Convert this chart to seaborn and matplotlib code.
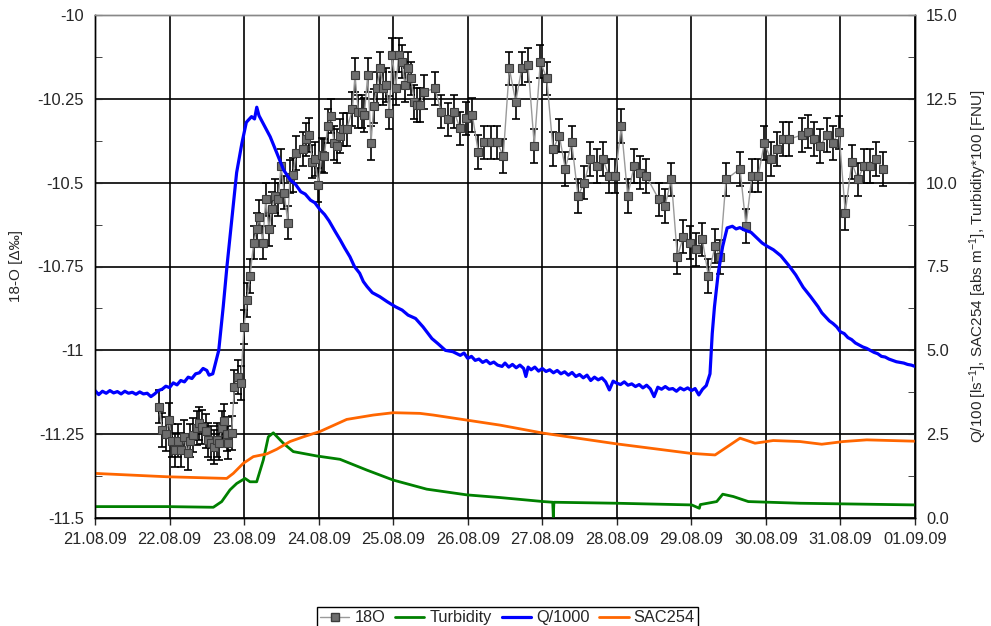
import numpy as np
import pandas as pd
import seaborn as sns
import matplotlib.pyplot as plt
import matplotlib.dates as mdates
from matplotlib.lines import Line2D
from matplotlib.ticker import MultipleLocator, FuncFormatter

# 18O samples: days after 21.08.09 00:00, value in permil
o18_day = [0.859, 0.903, 0.948, 0.993, 1.029, 1.073, 1.117, 1.154, 1.198, 1.244,
           1.274, 1.319, 1.364, 1.395, 1.439, 1.485, 1.512, 1.556, 1.600, 1.633,
           1.663, 1.700, 1.735, 1.767, 1.788, 1.834, 1.869, 1.914, 1.955,
           1.999, 2.039, 2.079, 2.129, 2.169, 2.204, 2.250, 2.290, 2.334, 2.370,
           2.415, 2.459, 2.495, 2.539, 2.585, 2.616, 2.660, 2.696, 2.786, 2.830,
           2.875, 2.915, 2.951, 2.996, 3.041,
           3.076, 3.122, 3.162, 3.206, 3.250, 3.287, 3.331, 3.377, 3.452, 3.488,
           3.532, 3.578, 3.613, 3.658, 3.703, 3.739, 3.779, 3.827, 3.868, 3.908,
           3.948, 3.988, 4.034, 4.074, 4.114, 4.159, 4.203, 4.239, 4.283, 4.324,
           4.364, 4.409, 4.561, 4.642, 4.731, 4.816, 4.896, 4.977, 5.061, 5.142,
           5.222, 5.312, 5.393, 5.477, 5.558, 5.644, 5.724, 5.809, 5.893, 5.974,
           6.060, 6.144, 6.229, 6.309, 6.395, 6.479, 6.564, 6.644, 6.730, 6.815,
           6.895, 6.980, 7.060, 7.146, 7.231, 7.315, 7.396, 7.562, 7.646, 7.731,
           7.812, 7.892, 7.978, 8.062, 8.147, 8.228, 8.317, 8.384, 8.465, 8.653,
           8.733, 8.813, 8.898, 8.979, 9.064, 9.145, 9.230, 9.314, 9.481, 9.565,
           9.649, 9.730, 9.816, 9.896, 9.981, 10.065, 10.151, 10.232, 10.316, 10.397,
           10.481, 10.567]
o18_val = [-11.168, -11.238, -11.250, -11.208, -11.269, -11.297, -11.269, -11.297, -11.259, -11.307,
           -11.269, -11.252, -11.232, -11.218, -11.228, -11.240, -11.267, -11.277, -11.289, -11.267,
           -11.277, -11.232, -11.210, -11.250, -11.275, -11.247, -11.108, -11.079, -11.098,
           -10.930, -10.850, -10.778, -10.679, -10.639, -10.601, -10.679, -10.550, -10.639, -10.579,
           -10.540, -10.550, -10.450, -10.530, -10.619, -10.482, -10.477, -10.411, -10.400, -10.371,
           -10.358, -10.437, -10.430, -10.507, -10.417,
           -10.420, -10.331, -10.301, -10.381, -10.391, -10.361, -10.341, -10.341, -10.281, -10.179,
           -10.288, -10.288, -10.298, -10.179, -10.381, -10.271, -10.219, -10.159, -10.219, -10.209,
           -10.291, -10.119, -10.219, -10.119, -10.139, -10.209, -10.159, -10.189, -10.259, -10.268,
           -10.268, -10.229, -10.219, -10.288, -10.311, -10.288, -10.338, -10.308, -10.298, -10.409,
           -10.380, -10.380, -10.380, -10.420, -10.159, -10.259, -10.159, -10.149, -10.390, -10.139,
           -10.189, -10.400, -10.360, -10.459, -10.380, -10.539, -10.500, -10.430, -10.450, -10.430,
           -10.480, -10.480, -10.331, -10.540, -10.450, -10.470, -10.480, -10.550, -10.570, -10.490,
           -10.721, -10.661, -10.679, -10.699, -10.669, -10.778, -10.689, -10.721, -10.490, -10.459,
           -10.629, -10.479, -10.479, -10.381, -10.429, -10.400, -10.370, -10.370, -10.358, -10.348,
           -10.370, -10.391, -10.358, -10.381, -10.350, -10.590, -10.439, -10.490, -10.450, -10.450,
           -10.430, -10.459]
o18_err = 0.05

# Q/1000 (noisy logger trace)
q_day = [0.00, 0.05, 0.10, 0.15, 0.20, 0.25, 0.30, 0.35, 0.40, 0.45,
         0.50, 0.55, 0.60, 0.65, 0.70, 0.75, 0.80, 0.85, 0.90, 0.95,
         1.00, 1.05, 1.10, 1.15, 1.20, 1.25, 1.30, 1.35, 1.40, 1.45,
         1.50, 1.53, 1.58, 1.62, 1.66, 1.72, 1.77, 1.84, 1.90, 1.97,
         2.03, 2.10, 2.14, 2.17, 2.20, 2.26, 2.35, 2.44, 2.53, 2.62,
         2.69, 2.76, 2.82, 2.89, 2.95, 3.02, 3.08, 3.14, 3.22, 3.29,
         3.35, 3.42, 3.48, 3.55, 3.60, 3.65, 3.72, 3.82, 3.92, 4.03,
         4.12, 4.20, 4.30, 4.40, 4.52, 4.60, 4.70, 4.80, 4.90, 4.95,
         5.00, 5.05, 5.10, 5.15, 5.20, 5.25, 5.30, 5.35, 5.40, 5.46,
         5.50, 5.55, 5.60, 5.65, 5.70, 5.75, 5.78, 5.81, 5.85, 5.90,
         5.95, 6.00, 6.05, 6.10, 6.15, 6.20, 6.25, 6.30, 6.35, 6.40,
         6.45, 6.50, 6.55, 6.60, 6.65, 6.70, 6.75, 6.80, 6.85, 6.90,
         6.95, 7.00, 7.05, 7.10, 7.15, 7.20, 7.25, 7.30, 7.35, 7.40,
         7.45, 7.50, 7.55, 7.60, 7.65, 7.70, 7.75, 7.80, 7.85, 7.90,
         7.95, 8.00, 8.05, 8.10, 8.15, 8.20, 8.25, 8.28, 8.31, 8.36,
         8.42, 8.48, 8.55, 8.60, 8.65, 8.72, 8.80, 8.88, 8.95, 9.02,
         9.10, 9.20, 9.30, 9.40, 9.50, 9.60, 9.70, 9.75, 9.80, 9.85,
         9.90, 9.95, 10.00, 10.05, 10.10, 10.15, 10.20, 10.25, 10.30, 10.35,
         10.40, 10.45, 10.50, 10.55, 10.60, 10.65, 10.70, 10.75, 10.80, 10.85,
         10.90, 10.95, 11.00]
q_val = [3.80, 3.68, 3.78, 3.72, 3.80, 3.73, 3.77, 3.70, 3.78, 3.72,
         3.75, 3.69, 3.76, 3.70, 3.72, 3.62, 3.70, 3.80, 3.84, 3.93,
         3.89, 4.03, 3.97, 4.10, 4.06, 4.20, 4.16, 4.30, 4.33, 4.46,
         4.40, 4.26, 4.30, 4.65, 5.00, 6.30, 7.50, 9.00, 10.30, 11.17,
         11.80, 11.97, 11.90, 12.25, 12.00, 11.75, 11.37, 10.88, 10.38, 10.08,
         9.95, 9.73, 9.66, 9.48, 9.40, 9.19, 9.05, 8.86, 8.55, 8.29,
         8.05, 7.79, 7.50, 7.30, 7.05, 6.90, 6.72, 6.60, 6.45, 6.30,
         6.20, 6.05, 5.95, 5.70, 5.35, 5.20, 5.00, 4.96, 4.85, 4.92,
         4.76, 4.82, 4.70, 4.74, 4.64, 4.70, 4.60, 4.65, 4.56, 4.52,
         4.62, 4.50, 4.58, 4.48, 4.56, 4.46, 4.22, 4.50, 4.42, 4.50,
         4.38, 4.46, 4.37, 4.42, 4.33, 4.40, 4.30, 4.36, 4.26, 4.34,
         4.22, 4.28, 4.18, 4.26, 4.10, 4.20, 4.12, 4.18, 4.06, 3.82,
         4.08, 4.02, 3.98, 4.06, 3.96, 4.00, 3.92, 3.98, 3.88, 3.96,
         3.85, 3.62, 3.90, 3.84, 3.92, 3.84, 3.86, 3.78, 3.88, 3.82,
         3.88, 3.80, 3.86, 3.67, 3.84, 3.95, 4.30, 5.50, 6.30, 7.30,
         8.10, 8.65, 8.70, 8.62, 8.66, 8.58, 8.52, 8.35, 8.20, 8.10,
         8.00, 7.82, 7.55, 7.25, 6.88, 6.60, 6.30, 6.12, 6.00, 5.88,
         5.80, 5.70, 5.55, 5.50, 5.38, 5.32, 5.22, 5.16, 5.10, 5.06,
         5.00, 4.94, 4.90, 4.82, 4.80, 4.74, 4.70, 4.66, 4.64, 4.62,
         4.58, 4.56, 4.52]

# SAC254
sac_day = [0, 0.962, 1.767, 1.855, 1.989, 2.124, 2.303, 2.438, 2.616, 2.794, 3.018, 3.377,
           3.733, 4.002, 4.360, 4.538, 4.986, 5.433, 6.014, 6.999, 7.982, 8.318, 8.653, 8.854,
           9.099, 9.457, 9.749, 10.039, 10.352, 11.0]
sac_val = [1.33, 1.23, 1.18, 1.33, 1.63, 1.83, 1.91, 2.05, 2.28, 2.42, 2.58, 2.94,
           3.07, 3.14, 3.12, 3.07, 2.92, 2.77, 2.53, 2.21, 1.93, 1.88, 2.38, 2.23,
           2.31, 2.28, 2.20, 2.28, 2.33, 2.29]

# Turbidity
turb_day = [0, 0.962, 1.587, 1.700, 1.811, 1.901, 2.012, 2.079, 2.169, 2.258, 2.325, 2.392,
            2.526, 2.660, 2.974, 3.287, 3.645, 4.002, 4.450, 4.986, 5.433, 6.014, 6.140, 6.148,
            6.156, 6.999, 8.005, 8.107, 8.120, 8.340, 8.421, 8.563, 8.764, 9.457, 11.0]
turb_val = [0.34, 0.34, 0.32, 0.49, 0.84, 1.03, 1.18, 1.08, 1.08, 1.73, 2.42, 2.54,
            2.23, 1.98, 1.85, 1.75, 1.43, 1.13, 0.86, 0.69, 0.61, 0.49, 0.47, 0.04,
            0.47, 0.44, 0.39, 0.29, 0.40, 0.49, 0.71, 0.64, 0.49, 0.44, 0.39]

start = pd.Timestamp("2009-08-21")


def to_time(days):
    return start + pd.to_timedelta(np.asarray(days), unit="D")


sns.set_style("white")
plt.rcParams['font.family'] = ['Liberation Sans', 'DejaVu Sans']
plt.rcParams['mathtext.default'] = 'regular'

fig = plt.figure(figsize=(9.91, 6.26), dpi=100)
ax = fig.add_axes([95 / 991, 1 - 518 / 626, 820 / 991, 503 / 626])
ax2 = ax.twinx()

t18 = to_time(o18_day)
ax.errorbar(t18, o18_val, yerr=o18_err, fmt='none', ecolor='black',
            elinewidth=1.2, capsize=3.2, capthick=1.2, zorder=2)
sns.lineplot(x=t18, y=o18_val, ax=ax, color='#9a9a9a', lw=1, marker='s', markersize=6,
             markerfacecolor='#6e6e6e', markeredgecolor='#3c3c3c', markeredgewidth=0.8,
             estimator=None, zorder=3)

green, blue, orange = '#008000', '#0000ff', '#ff6600'
sns.lineplot(x=to_time(turb_day), y=turb_val, ax=ax2, color=green, lw=2, estimator=None)
sns.lineplot(x=to_time(q_day), y=q_val, ax=ax2, color=blue, lw=2.3, estimator=None)
sns.lineplot(x=to_time(sac_day), y=sac_val, ax=ax2, color=orange, lw=2, estimator=None)

ax.set_xlim(start, start + pd.Timedelta(days=11))
ax.set_ylim(-11.5, -10)
ax2.set_ylim(0, 15)
ax.xaxis.set_major_locator(mdates.DayLocator())
ax.xaxis.set_major_formatter(mdates.DateFormatter('%d.%m.%y'))
ax.yaxis.set_major_locator(MultipleLocator(0.25))
ax.yaxis.set_minor_locator(MultipleLocator(0.125))
ax.yaxis.set_major_formatter(FuncFormatter(lambda v, p: f"{v:g}"))
ax2.yaxis.set_major_locator(MultipleLocator(2.5))
ax2.yaxis.set_minor_locator(MultipleLocator(1.25))
ax2.yaxis.set_major_formatter(FuncFormatter(lambda v, p: f"{v:.1f}"))

ax.set_axisbelow(True)
ax.grid(True, which='major', color='black', lw=1.2)
ax.set_xlabel("")
ax.set_ylabel("18-O [Δ‰]", fontsize=11, labelpad=10)
ax2.set_ylabel("Q/100 [ls$^{-1}$], SAC254 [abs m$^{-1}$], Turbidity*100 [FNU]",
               fontsize=11, labelpad=7)

ax.tick_params(axis='x', which='major', bottom=True, direction='out', length=5,
               width=1, labelsize=11.8, pad=5)
ax.tick_params(axis='y', which='both', left=True, direction='in', length=5,
               labelsize=11.8, pad=8)
ax2.tick_params(axis='y', which='both', right=True, direction='in', length=5,
                labelsize=11.8, pad=8)
for a in (ax, ax2):
    for s in a.spines.values():
        s.set_color('black')
        s.set_linewidth(1)
    a.spines['top'].set_color('#888888')

handles = [
    Line2D([], [], color='#9a9a9a', lw=1, marker='s', ms=6, mfc='#6e6e6e', mec='#3c3c3c'),
    Line2D([], [], color=green, lw=2),
    Line2D([], [], color=blue, lw=2.3),
    Line2D([], [], color=orange, lw=2),
]
fig.legend(handles, ["18O", "Turbidity", "Q/1000", "SAC254"], loc='upper center',
           bbox_to_anchor=(0.512, 0.030), ncol=4, frameon=True, fancybox=False,
           edgecolor='black', framealpha=1, fontsize=11.8, handlelength=1.8,
           handletextpad=0.3, columnspacing=0.6, borderpad=0.2, borderaxespad=0)

fig.savefig("out.png", dpi=100)
